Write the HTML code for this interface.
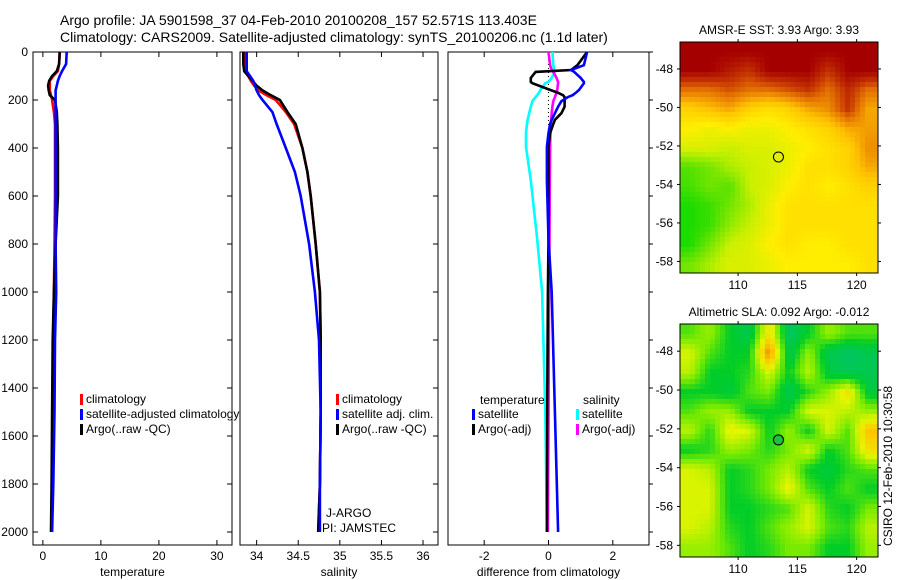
<!DOCTYPE html>
<html><head><meta charset="utf-8"><style>
body{margin:0;background:#fff}
svg{display:block;font-family:"Liberation Sans",sans-serif}
</style></head><body>
<svg id="fig" width="900" height="580" viewBox="0 0 900 580" xmlns="http://www.w3.org/2000/svg">
<text x="60" y="25" font-size="14">Argo profile: JA 5901598_37 04-Feb-2010 20100208_157 52.571S 113.403E</text>
<text x="60" y="42" font-size="14">Climatology: CARS2009. Satellite-adjusted climatology: synTS_20100206.nc (1.1d later)</text>
<g id="g"></g>
</svg>
<script>
// ---------- data ----------
const depths = [0,50,80,100,120,140,160,180,200,250,300,400,500,600,800,1000,1200,1500,1800,2000];
const tempClim = [2.9,2.8,2.6,1.8,1.2,1.2,1.2,1.4,1.6,1.9,2.1,2.1,2.1,2.1,2.0,1.9,1.8,1.7,1.6,1.5];
const tempSat  = [4.1,4.0,3.3,2.9,2.6,2.4,2.2,2.2,2.2,2.2,2.2,2.2,2.2,2.2,2.2,2.3,2.1,2.0,1.8,1.6];
const tempArgo = [2.9,2.8,2.4,1.6,1.1,0.9,1.0,1.2,2.1,2.4,2.5,2.6,2.6,2.6,2.2,1.9,1.7,1.6,1.5,1.4];
const salClim = [33.87,33.87,33.88,33.9,33.93,33.97,34.02,34.12,34.23,34.35,34.45,34.55,34.61,34.65,34.71,34.76,34.77,34.77,34.76,34.74];
const salSat  = [33.88,33.88,33.88,33.92,33.96,33.98,34.0,34.03,34.07,34.19,34.24,34.35,34.46,34.53,34.63,34.70,34.75,34.77,34.76,34.76];
const salArgo = [33.84,33.84,33.85,33.9,33.95,34.0,34.07,34.17,34.28,34.37,34.47,34.55,34.61,34.65,34.71,34.76,34.77,34.77,34.76,34.74];
const dDepths = [0,55,75,83,108,125,130,158,170,180,188,205,228,255,283,300,338,395,535,780,1000,1500,2000];
const dTempSat  = [1.2,1.1,0.7,0.8,1.0,1.1,1.1,0.95,0.85,0.75,0.6,0.4,0.3,0.2,0.1,0.05,0.0,-0.05,-0.05,0.0,0.1,0.2,0.3];
const dTempArgo = [1.2,0.9,0.7,-0.4,-0.55,-0.55,-0.5,0.05,0.3,0.45,0.5,0.5,0.5,0.4,0.2,0.15,0.05,0.0,0.0,0.0,-0.02,-0.04,-0.05];
const dSalSat   = [0.12,0.15,0.18,0.2,0.1,0.0,-0.1,-0.25,-0.3,-0.35,-0.4,-0.5,-0.55,-0.6,-0.65,-0.67,-0.7,-0.7,-0.55,-0.35,-0.2,-0.1,-0.05];
const dSalArgo  = [0.0,0.05,0.1,0.15,0.25,0.3,0.3,0.27,0.25,0.22,0.2,0.15,0.12,0.1,0.08,0.07,0.06,0.05,0.04,0.03,0.02,0.0,-0.02];
const depthTicks = [0,200,400,600,800,1000,1200,1400,1600,1800,2000];
const tempTicks = [0,10,20,30];
const salTicks = [34,34.5,35,35.5,36];
const diffTicks = [-2,0,2];
const latTicks = [-48,-50,-52,-54,-56,-58];
const lonTicks = [110,115,120];
const sstGrid = [
[1,1,1,1,1,1,1,1,1,1],
[1,1,0.95,0.9,1,1,1,0.9,1,1],
[0.8,0.8,0.85,0.8,0.8,0.85,0.9,0.8,0.92,0.8],
[0.6,0.65,0.7,0.6,0.55,0.6,0.7,0.75,0.9,0.7],
[0.5,0.45,0.5,0.45,0.45,0.5,0.55,0.6,0.7,0.72],
[0.4,0.4,0.35,0.4,0.4,0.45,0.5,0.55,0.6,0.75],
[0.15,0.2,0.3,0.35,0.4,0.45,0.55,0.55,0.6,0.7],
[0.12,0.2,0.15,0.35,0.4,0.5,0.55,0.5,0.55,0.6],
[0.05,0.1,0.2,0.3,0.45,0.55,0.55,0.55,0.55,0.55],
[0.05,0.1,0.25,0.35,0.45,0.55,0.55,0.55,0.55,0.55],
[0.05,0.2,0.35,0.4,0.5,0.55,0.5,0.5,0.55,0.55],
[0.2,0.3,0.4,0.4,0.45,0.5,0.5,0.5,0.5,0.55]];
const slaGrid = [
[0.4,0.5,0.3,0.2,0.7,0.15,0.3,0.5,0.4,0.4],
[0.6,0.4,0.3,0.3,0.95,0.2,0.5,0.2,0.15,0.2],
[0.55,0.3,0.3,0.35,0.6,0.3,0.55,0.25,0.2,0.2],
[0.3,0.3,0.25,0.4,0.45,0.2,0.35,0.5,0.7,0.25],
[0.4,0.5,0.5,0.3,0.3,0.3,0.6,0.6,0.55,0.5],
[0.55,0.35,0.65,0.6,0.3,0.5,0.3,0.6,0.4,0.8],
[0.3,0.35,0.5,0.45,0.35,0.45,0.6,0.3,0.4,0.7],
[0.6,0.55,0.3,0.35,0.45,0.55,0.3,0.25,0.35,0.4],
[0.6,0.6,0.3,0.35,0.45,0.65,0.4,0.3,0.4,0.3],
[0.6,0.6,0.3,0.3,0.35,0.4,0.6,0.35,0.3,0.45],
[0.6,0.55,0.35,0.3,0.4,0.5,0.6,0.4,0.35,0.55],
[0.5,0.5,0.4,0.3,0.35,0.45,0.45,0.3,0.3,0.5]];
const floatLon = 113.403, floatLat = -52.571;

// ---------- helpers ----------
const NS="http://www.w3.org/2000/svg", G=document.getElementById('g');
function mk(tag,attrs,parent){const e=document.createElementNS(NS,tag);for(const k in attrs)e.setAttribute(k,attrs[k]);(parent||G).appendChild(e);return e;}
function txt(s,x,y,opts){const e=mk('text',Object.assign({x:x,y:y,'font-size':12},opts||{}));e.textContent=s;return e;}
const Y0=52, Y1=545;
const yD = d => Y0 + d*0.24;

function panel(name,x0,x1,xmin,xmax,ticks,label,showY,rightTicks){
  const xs = v => x0 + (v-xmin)/(xmax-xmin)*(x1-x0);
  const r=mk('rect',{x:x0,y:Y0,width:x1-x0,height:Y1-Y0,fill:'none',stroke:'#000','stroke-width':1});
  
  
  ticks.forEach(t=>{
    const X=xs(t);
    mk('line',{x1:X,x2:X,y1:Y1,y2:Y1-5,stroke:'#000'});
    mk('line',{x1:X,x2:X,y1:Y0,y2:Y0+5,stroke:'#000'});
    const tl=txt(String(t),X,560,{'text-anchor':'middle'});
    
    
  });
  depthTicks.forEach(d=>{
    const Y=yD(d);
    if(showY){
      mk('line',{x1:x0,x2:x0+5,y1:Y,y2:Y,stroke:'#000'});
      const tl=txt(String(d),x0-5,Y+4,{'text-anchor':'end'});
      
      
    }
    if(rightTicks) mk('line',{x1:x1,x2:x1+4,y1:Y,y2:Y,stroke:'#000'});
    else mk('line',{x1:x1,x2:x1-5,y1:Y,y2:Y,stroke:'#000'});
  });
  const al=txt(label,(x0+x1)/2,576,{'text-anchor':'middle'});
  
  
  return xs;
}
function line(xs,vals,dep,color,name){
  const pts=vals.map((v,i)=>xs(v).toFixed(1)+','+yD(dep[i]).toFixed(1)).join(' ');
  const p=mk('polyline',{points:pts,fill:'none',stroke:color,'stroke-width':2.6,'stroke-linejoin':'miter'});
  
  
}
function legend(x,y,items){
  items.forEach((it,i)=>{
    mk('rect',{x:x,y:y+i*15-9,width:3,height:11,fill:it[1]});
    const t=txt(it[0],x+6,y+i*15,{});
    
    
  });
}

// panel 1 temperature
const xT=panel('temperature',33,232,-1.7,32.6,tempTicks,'temperature',true,false);
line(xT,tempClim,depths,'#ff0000','temp-climatology-line');
line(xT,tempArgo,depths,'#000000','temp-argo-line');
line(xT,tempSat,depths,'#0000ff','temp-satellite-line');
legend(80,403,[['climatology','#ff0000'],['satellite-adjusted climatology','#0000ff'],['Argo(..raw -QC)','#000000']]);

// panel 2 salinity
const xS=panel('salinity',240,438,33.8,36.18,salTicks,'salinity',false,false);
line(xS,salClim,depths,'#ff0000','sal-climatology-line');
line(xS,salArgo,depths,'#000000','sal-argo-line');
line(xS,salSat,depths,'#0000ff','sal-satellite-line');
legend(336,403,[['climatology','#ff0000'],['satellite adj. clim.','#0000ff'],['Argo(..raw -QC)','#000000']]);
const j1=txt('J-ARGO',326,517,{});
const j2=txt('PI: JAMSTEC',322,532,{});

// panel 3 difference
const xD=panel('difference',448,649,-3.125,3.125,diffTicks,'difference from climatology',false,true);
mk('line',{x1:xD(0),x2:xD(0),y1:Y0,y2:yD(2000),stroke:'#000','stroke-dasharray':'1,3'});
line(xD,dSalSat,dDepths,'#00ffff','diff-sal-satellite-line');
line(xD,dSalArgo,dDepths,'#ff00ff','diff-sal-argo-line');
line(xD,dTempArgo,dDepths,'#000000','diff-temp-argo-line');
line(xD,dTempSat,dDepths,'#0000ff','diff-temp-satellite-line');
txt('temperature',480,404,{});
txt('salinity',583,404,{});
legend(472,418,[['satellite','#0000ff'],['Argo(-adj)','#000000']]);
legend(576,418,[['satellite','#00ffff'],['Argo(-adj)','#ff00ff']]);

// maps
function lerpCol(stops,v){
  v=Math.max(0,Math.min(1,v));
  for(let i=1;i<stops.length;i++){if(v<=stops[i][0]){const a=stops[i-1],b=stops[i],f=(v-a[0])/(b[0]-a[0]);
    return 'rgb('+[0,1,2].map(k=>Math.round(a[1][k]+(b[1][k]-a[1][k])*f)).join(',')+')';}}
  return 'rgb('+stops[stops.length-1][1].join(',')+')';
}
const sstStops=[[0,[0,215,0]],[0.35,[200,240,0]],[0.5,[255,238,0]],[0.65,[255,195,0]],[0.8,[228,115,0]],[0.9,[195,50,0]],[1,[165,0,0]]];
const slaStops=[[0,[0,190,160]],[0.3,[0,205,40]],[0.45,[120,235,0]],[0.62,[230,245,0]],[0.8,[255,195,0]],[1,[225,110,0]]];
function mapPanel(name,title,y0,y1,grid,stops,circleFill){
  const x0=680,x1=878,lonMin=105.1,lonMax=121.8,latTop=-46.6,latBot=-58.6;
  const lx=v=>x0+(v-lonMin)/(lonMax-lonMin)*(x1-x0);
  const ly=v=>y0+(latTop-v)/(latTop-latBot)*(y1-y0);
  const g=mk('g',{});
  
  
  const R=grid.length,C=grid[0].length,step=5;
  for(let y=y0;y<y1;y+=step){for(let x=x0;x<x1;x+=step){
    const gr=Math.max(0,Math.min(R-1,((y+step/2-y0)/(y1-y0))*R-0.5));
    const gc=Math.max(0,Math.min(C-1,((x+step/2-x0)/(x1-x0))*C-0.5));
    const r0=Math.floor(gr),c0=Math.floor(gc),r1=Math.min(R-1,r0+1),c1=Math.min(C-1,c0+1),fr=gr-r0,fc=gc-c0;
    const v=grid[r0][c0]*(1-fr)*(1-fc)+grid[r0][c1]*(1-fr)*fc+grid[r1][c0]*fr*(1-fc)+grid[r1][c1]*fr*fc;
    mk('rect',{x:x,y:y,width:Math.min(step,x1-x),height:Math.min(step,y1-y),fill:lerpCol(stops,v)},g);
  }}
  mk('rect',{x:x0,y:y0,width:x1-x0,height:y1-y0,fill:'none',stroke:'#000'});
  latTicks.forEach(t=>{const Y=ly(t);mk('line',{x1:x0,x2:x0-3,y1:Y,y2:Y,stroke:'#000'});mk('line',{x1:x1,x2:x1+3,y1:Y,y2:Y,stroke:'#000'});
    const l=txt(String(t),673,Y+4,{'text-anchor':'end'});});
  lonTicks.forEach(t=>{const X=lx(t);mk('line',{x1:X,x2:X,y1:y1,y2:y1+3,stroke:'#000'});mk('line',{x1:X,x2:X,y1:y0,y2:y0-3,stroke:'#000'});
    const l=txt(String(t),X,y1+16,{'text-anchor':'middle'});});
  const c=mk('circle',{cx:lx(floatLon),cy:ly(floatLat),r:5,fill:circleFill,stroke:'#000','stroke-width':1});
  
  
  const t=txt(title,(x0+x1)/2,y0-8,{'text-anchor':'middle'});
  
  
}
mapPanel('sst-map','AMSR-E SST: 3.93 Argo: 3.93',42,273,sstGrid,sstStops,'none');
mapPanel('sla-map','Altimetric SLA: 0.092 Argo: -0.012',324,557,slaGrid,slaStops,'#20c040');
const cs=txt('CSIRO 12-Feb-2010 10:30:58',0,0,{transform:'translate(892,546) rotate(-90)'});


</script>
</body></html>
